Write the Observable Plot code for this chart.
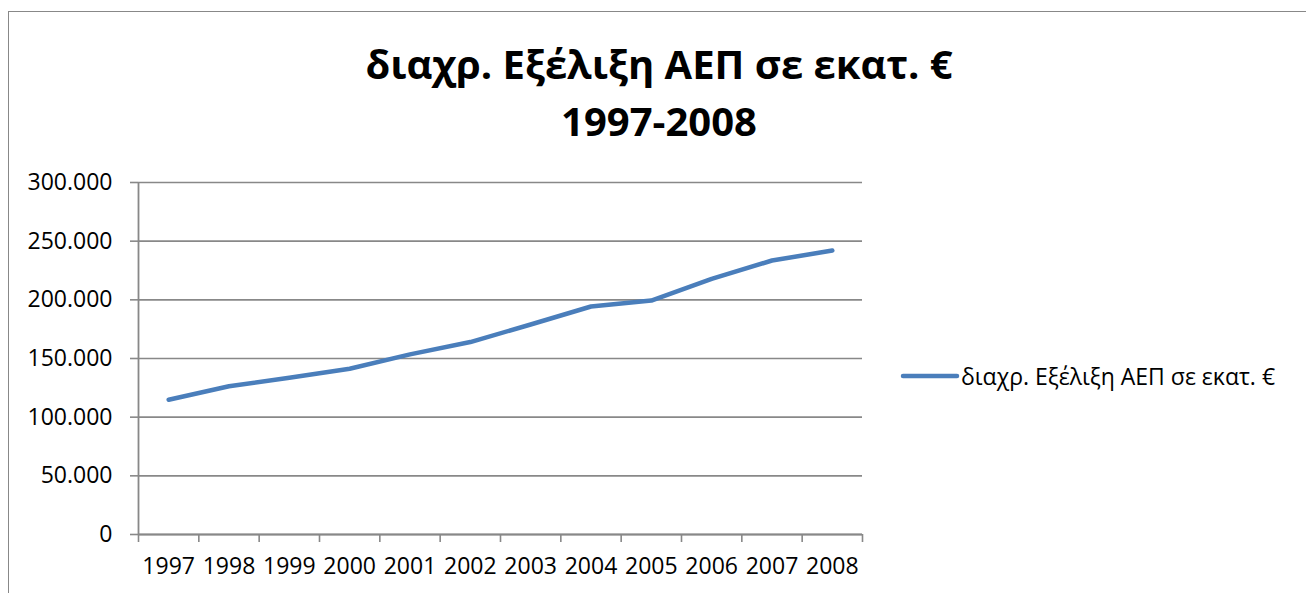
<!DOCTYPE html>
<html><head><meta charset="utf-8">
<script src="https://cdn.jsdelivr.net/npm/d3@7"></script>
<script src="https://cdn.jsdelivr.net/npm/@observablehq/plot@0.6"></script>
<style>
html,body{margin:0;padding:0;overflow:hidden;background:#fff;width:1306px;height:593px}
#frame{position:absolute;left:8px;top:11px;width:1400px;height:700px;border:1.5px solid #888;box-sizing:border-box}
#title{position:absolute;left:0;top:35px;width:1318px;text-align:center;font-family:'Open Sans';font-weight:bold;font-size:40px;line-height:57px;color:#000}
#chart{position:absolute;left:0;top:0}
#legend{position:absolute;left:900px;top:362px;height:28px;display:flex;align-items:center;font-family:'Open Sans';font-size:23px;color:#000;white-space:nowrap}
</style></head><body>
<div id="frame"></div>
<div id="title"></div>
<div id="chart"></div>
<div id="legend"></div>
<script>
const years = [1997,1998,1999,2000,2001,2002,2003,2004,2005,2006,2007,2008];
const gdp = [114800,126300,133600,141300,153500,164000,179000,194300,199400,217900,233500,242000];
const yTicks = [0,50000,100000,150000,200000,250000,300000];
const seriesName = "διαχρ. Εξέλιξη ΑΕΠ σε εκατ. €";
const titleLines = [seriesName, "1997-2008"];

const lineColor = "#4a7ebb";
const gridColor = "#888888";

const data = years.map((y,i)=>({year:y, value:gdp[i]}));
const boundaries = [years[0]-0.5, ...years.map(y=>y+0.5)];
const fmt = d3.formatLocale({decimal:",", thousands:".", grouping:[3], currency:["","€"]}).format(",");

document.getElementById("title").innerHTML = titleLines.join("<br>");

const chart = Plot.plot({
  width: 1306,
  height: 593,
  marginLeft: 138,
  marginRight: 444,
  marginTop: 182,
  marginBottom: 59,
  style: {fontFamily: "'Open Sans'", fontSize: "23px", color: "#000", background: "transparent"},
  x: {type: "linear", domain: [boundaries[0], boundaries[boundaries.length-1]], axis: null, label: null},
  y: {domain: [0, 300000], axis: null, label: null},
  marks: [
    Plot.gridY(yTicks, {stroke: gridColor, strokeOpacity: 1, strokeWidth: 1.6}),
    Plot.axisY({ticks: yTicks, label: null, tickSize: 8, tickPadding: 18, tickFormat: fmt, stroke: gridColor, strokeWidth: 1.6, fill: "#000", fontSize: 23}),
    Plot.ruleX([boundaries[0]], {stroke: gridColor, strokeWidth: 1.8}),
    Plot.ruleY([0], {stroke: gridColor, strokeWidth: 1.8}),
    Plot.axisX({ticks: boundaries, label: null, tickSize: 8, tickFormat: () => "", stroke: gridColor, strokeWidth: 1.6}),
    Plot.axisX({ticks: years, label: null, tickSize: 0, tickPadding: 23, tickFormat: d => String(d), fill: "#000", fontSize: 23}),
    Plot.line(data, {x: "year", y: "value", stroke: lineColor, strokeWidth: 4.5, strokeLinecap: "round", strokeLinejoin: "round"})
  ]
});
document.getElementById("chart").appendChild(chart);

const legend = document.getElementById("legend");
legend.innerHTML = `<svg width="60" height="10" style="margin-right:1px"><line x1="3" y1="5" x2="57" y2="5" stroke="${lineColor}" stroke-width="4.5" stroke-linecap="round"/></svg><span>${seriesName}</span>`;
</script>
</body></html>
